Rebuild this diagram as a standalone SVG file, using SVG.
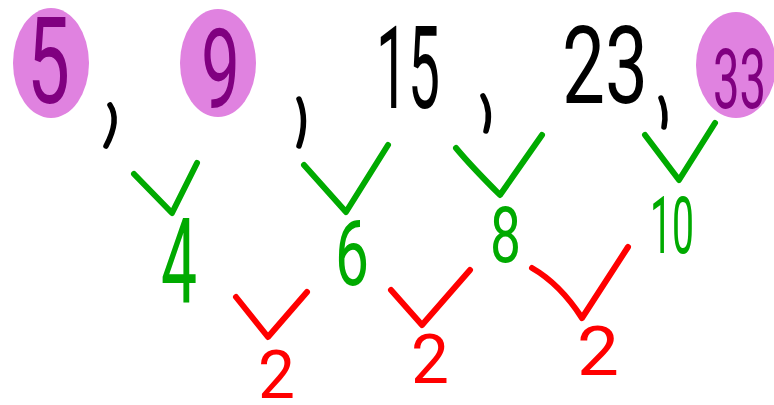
<svg xmlns="http://www.w3.org/2000/svg" width="774" height="405" viewBox="0 0 774 405">
<style>
.bg{fill:#ffffff}
.hl{fill:#e082e0}
.t{font-family:Roboto,"Liberation Sans",sans-serif;font-weight:400}
.p{fill:#800080}
.k{fill:#000000}
.g{fill:#00aa00}
.r{fill:#ff0000}
.cm{fill:none;stroke:#000;stroke-width:5.5;stroke-linecap:round;stroke-linejoin:round}
.gv{fill:none;stroke:#00aa00;stroke-width:6;stroke-linecap:round;stroke-linejoin:round}
.rv{fill:none;stroke:#ff0000;stroke-width:6;stroke-linecap:round;stroke-linejoin:round}
</style>
<rect class="bg" x="0" y="0" width="774" height="405"/>
<g id="n5"><ellipse class="hl" cx="51" cy="63" rx="38" ry="55"/><text class="t p" x="27" y="103" font-size="120" textLength="43" lengthAdjust="spacingAndGlyphs">5</text></g>
<g id="n9"><ellipse class="hl" cx="218" cy="63" rx="38" ry="54"/><text class="t p" x="201" y="108" font-size="112" textLength="39" lengthAdjust="spacingAndGlyphs">9</text></g>
<g id="n15"><text class="t k" x="376" y="108" font-size="115" textLength="64" lengthAdjust="spacingAndGlyphs">15</text></g>
<g id="n23"><text class="t k" x="562" y="103" font-size="108" textLength="86" lengthAdjust="spacingAndGlyphs">23</text></g>
<g id="n33"><ellipse class="hl" cx="736" cy="65" rx="40" ry="53"/><text class="t p" x="713" y="108" font-size="84" textLength="53" lengthAdjust="spacingAndGlyphs">33</text></g>
<g id="commas">
<path class="cm" d="M110 105 Q120 120 106 146"/>
<path class="cm" d="M299 99 Q308 120 299 146"/>
<path class="cm" d="M483 96 Q492 112 486 131"/>
<path class="cm" d="M661 98 Q667 112 664 127"/>
</g>
<g id="d4"><text class="t g" x="161" y="303" font-size="118" textLength="36" lengthAdjust="spacingAndGlyphs">4</text></g>
<g id="d6"><text class="t g" x="335" y="285" font-size="90" textLength="34" lengthAdjust="spacingAndGlyphs">6</text></g>
<g id="d8"><text class="t g" x="490" y="262" font-size="77" textLength="31" lengthAdjust="spacingAndGlyphs">8</text></g>
<g id="d10"><text class="t g" x="650" y="253" font-size="80" textLength="44" lengthAdjust="spacingAndGlyphs">10</text></g>
<g id="s1"><text class="t r" x="258" y="398" font-size="66" textLength="37" lengthAdjust="spacingAndGlyphs">2</text></g>
<g id="s2"><text class="t r" x="411" y="383" font-size="69" textLength="38" lengthAdjust="spacingAndGlyphs">2</text></g>
<g id="s3"><text class="t r" x="577" y="375" font-size="69" textLength="42" lengthAdjust="spacingAndGlyphs">2</text></g>
<g id="connectors">
<path class="gv" d="M134 174 L172 213 L197 163"/>
<path class="gv" d="M304 165 L346 212 L388 145"/>
<path class="gv" d="M456 148 Q470 165 500 195 L542 135"/>
<path class="gv" d="M645 135 L679 180 L715 123"/>
<path class="rv" d="M236 297 L268 337 L307 292"/>
<path class="rv" d="M391 290 L422 325 L470 270"/>
<path class="rv" d="M532 268 Q560 284 582 318 L628 247"/>
</g>
</svg>
